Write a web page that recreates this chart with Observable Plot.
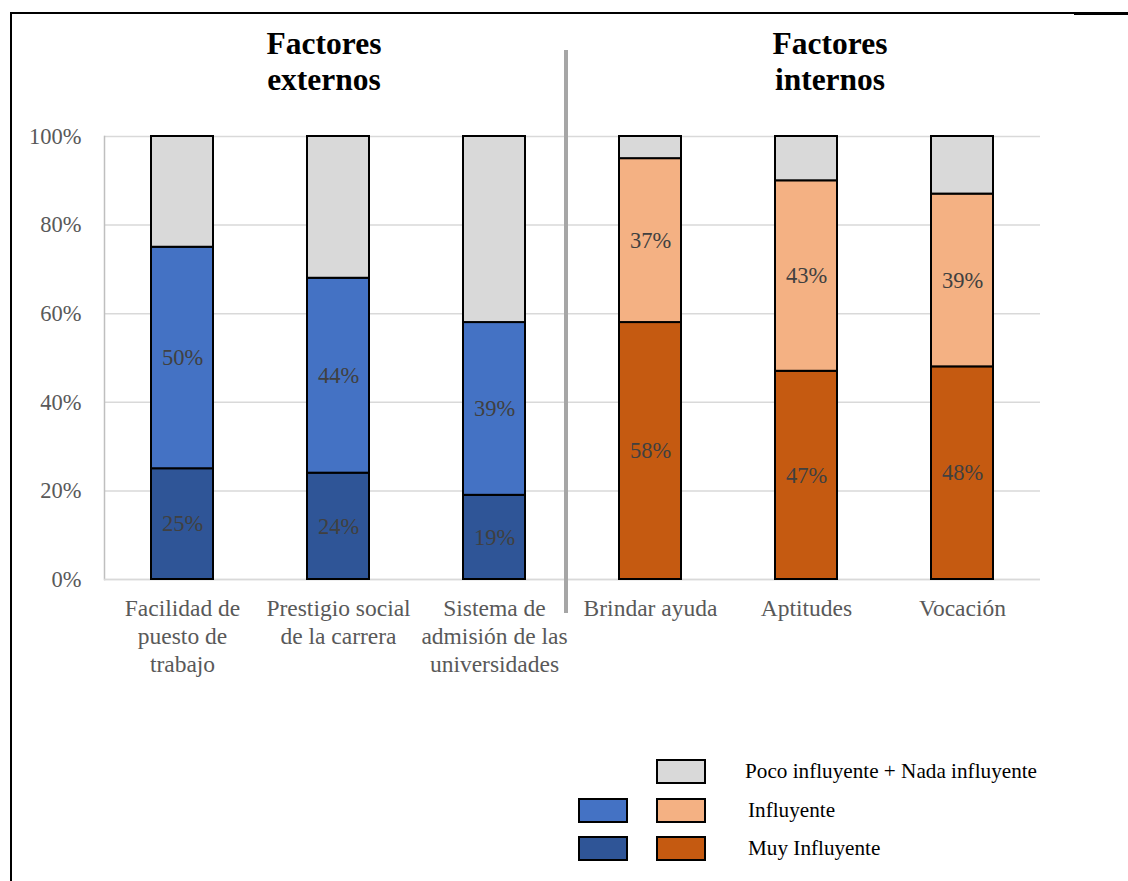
<!DOCTYPE html>
<html><head><meta charset="utf-8">
<script src="https://cdn.jsdelivr.net/npm/d3@7"></script>
<script src="https://cdn.jsdelivr.net/npm/@observablehq/plot@0.6"></script>
<style>
body{margin:0;background:#fff;}
#page{position:relative;width:1128px;height:881px;overflow:hidden;font-family:"Liberation Serif","Times New Roman",serif;background:#fff;}
#chart{position:absolute;left:0;top:0;}
#chart svg, #chart svg text{font-family:"Liberation Serif","Times New Roman",serif !important;}
.abs{position:absolute;}
.title{position:absolute;font-weight:bold;font-size:31.5px;line-height:36px;text-align:center;color:#000;width:240px;}
.sw{position:absolute;box-sizing:border-box;border:2.5px solid #000;width:50px;height:25px;}
.lt{position:absolute;font-size:21.2px;color:#000;line-height:24px;white-space:nowrap;}
</style></head>
<body>
<div id="page">
  <div id="chart"></div>
  <div class="abs" style="left:10px;top:12px;width:2px;height:869px;background:#000"></div>
  <div class="abs" style="left:10px;top:12px;width:1064px;height:2px;background:#000"></div>
  <div class="abs" style="left:1074px;top:12px;width:54px;height:3px;background:#000"></div>
  <div class="abs" style="left:564px;top:50px;width:4px;height:563px;background:#a6a6a6"></div>
  <div class="title" style="left:204px;top:26px">Factores<br>externos</div>
  <div class="title" style="left:710px;top:26px">Factores<br>internos</div>
  <div id="legend"></div>
</div>
<script>
const categories = [
  "Facilidad de\npuesto de\ntrabajo",
  "Prestigio social\nde la carrera",
  "Sistema de\nadmisión de las\nuniversidades",
  "Brindar ayuda",
  "Aptitudes",
  "Vocación"
];
const groups = ["externos","externos","externos","internos","internos","internos"];
const levels = ["Muy Influyente","Influyente","Poco influyente + Nada influyente"];
const muyInfluyente = [25, 24, 19, 58, 47, 48];
const influyente    = [50, 44, 39, 37, 43, 39];
const pocoNada      = [25, 32, 42, 5, 10, 13];
const yTicks = [0, 20, 40, 60, 80, 100];

const colorKeys   = ["externos|Muy Influyente","externos|Influyente","internos|Muy Influyente","internos|Influyente","externos|Poco influyente + Nada influyente","internos|Poco influyente + Nada influyente"];
const colorValues = ["#2F5597","#4472C4","#C55A11","#F4B183","#D9D9D9","#D9D9D9"];

const FONT = "'Liberation Serif', 'Times New Roman', serif";

const seriesByLevel = [muyInfluyente, influyente, pocoNada];
const rows = [];
categories.forEach((c, i) => {
  levels.forEach((lv, j) => {
    rows.push({cat: c, level: lv, key: groups[i] + "|" + lv, value: seriesByLevel[j][i], showLabel: j < 2});
  });
});

const chart = Plot.plot({
  width: 1128,
  height: 700,
  marginLeft: 104,
  marginRight: 88,
  marginTop: 136,
  marginBottom: 121,
  style: {fontFamily: FONT, fontSize: "22px", background: "transparent", color: "#595959"},
  x: {domain: categories, paddingInner: 0.6, paddingOuter: 0.3},
  y: {domain: [0, 100]},
  color: {domain: colorKeys, range: colorValues},
  marks: [
    Plot.gridY(yTicks, {stroke: "#d9d9d9", strokeOpacity: 1, strokeWidth: 1.5}),
    Plot.frame({anchor: "left", stroke: "#bfbfbf", strokeWidth: 1.5}),
    Plot.ruleY([0], {stroke: "#d9d9d9", strokeWidth: 1.5}),
    Plot.barY(rows, {x: "cat", y: "value", fill: "key", stroke: "#000", strokeWidth: 2, inset: 0}),
    Plot.text(rows, Plot.stackY({x: "cat", y: "value", text: d => d.showLabel ? d.value + "%" : "", fill: "#404040", fontSize: 22.5, fontFamily: FONT})),
    Plot.axisY({ticks: yTicks, tickFormat: d => d + "%", tickSize: 0, tickPadding: 23, fontSize: 22.5, fontFamily: FONT, fill: "#595959", label: null}),
    Plot.axisX({tickSize: 0, tickPadding: 17, fontSize: 23.5, fontFamily: FONT, fill: "#595959", lineHeight: 1.19, label: null})
  ]
});
document.getElementById("chart").appendChild(chart);

// legend
const legend = document.getElementById("legend");
const legendItems = [
  {key: "externos|Poco influyente + Nada influyente", show: false},
  {key: "internos|Poco influyente + Nada influyente", show: true},
  {key: "externos|Influyente", show: true},
  {key: "internos|Influyente", show: true},
  {key: "externos|Muy Influyente", show: true},
  {key: "internos|Muy Influyente", show: true}
];
const rowTops = [759, 798, 836];
const colLefts = [578, 656];
legendItems.forEach((it, k) => {
  if (!it.show) return;
  const r = Math.floor(k / 2), c = k % 2;
  const d = document.createElement("div");
  d.className = "sw";
  d.style.left = colLefts[c] + "px";
  d.style.top = rowTops[r] + "px";
  d.style.background = colorValues[colorKeys.indexOf(it.key)];
  legend.appendChild(d);
});
const legendLabels = [levels[2], levels[1], levels[0]];
const labelLefts = [745, 748, 748];
legendLabels.forEach((t, r) => {
  const d = document.createElement("div");
  d.className = "lt";
  d.style.left = labelLefts[r] + "px";
  d.style.top = (rowTops[r] + 0) + "px";
  d.textContent = t;
  legend.appendChild(d);
});
</script>
</body></html>
